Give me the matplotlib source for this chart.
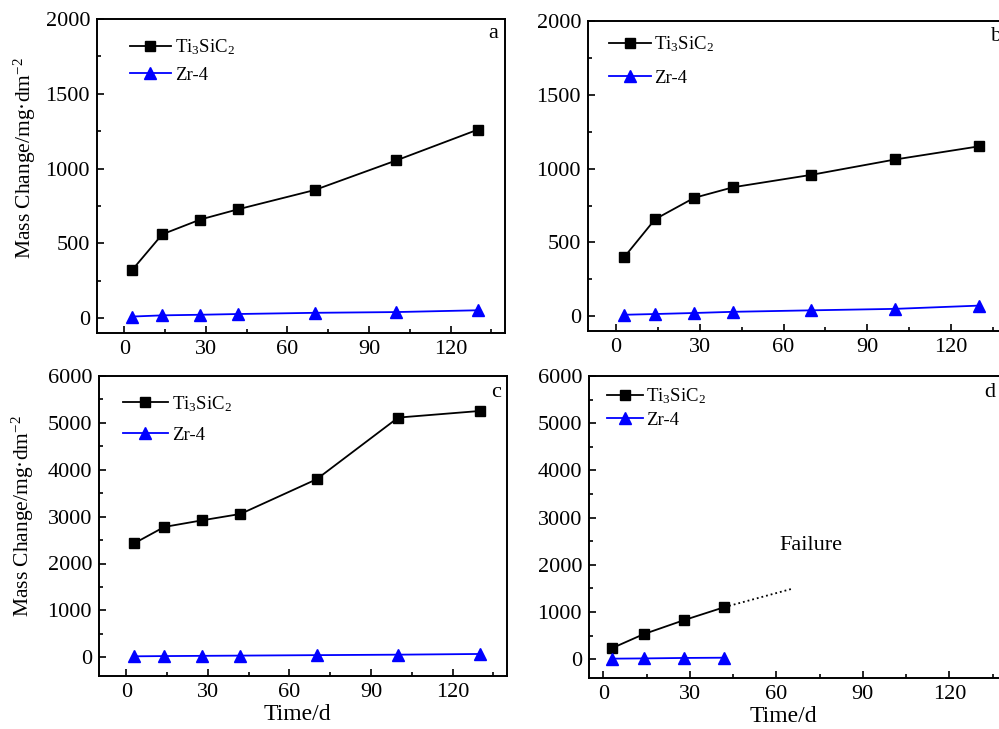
import matplotlib
matplotlib.use("Agg")
import matplotlib.pyplot as plt
from matplotlib.ticker import MultipleLocator

plt.rcParams['font.family'] = ['Liberation Serif', 'DejaVu Serif']
plt.rcParams['mathtext.fontset'] = 'custom'
plt.rcParams['mathtext.rm'] = 'Liberation Serif'
plt.rcParams['mathtext.it'] = 'Liberation Serif:italic'

# ---- data ----
days = [3, 14, 28, 42, 70, 100, 130]
ti_a = [323, 560, 659, 728, 856, 1054, 1260]
zr_a = [10, 18, 22, 27, 35, 40, 52]
ti_b = [401, 657, 802, 874, 958, 1062, 1151]
zr_b = [10, 15, 22, 30, 40, 50, 72]
ti_c = [2432, 2780, 2922, 3057, 3797, 5113, 5254]
zr_c = [20, 25, 30, 35, 45, 55, 70]
days_d = [3, 14, 28, 42]
ti_d = [233, 530, 827, 1102]
zr_d = [10, 15, 25, 30]
failure_x = [42, 66]
failure_y = [1102, 1500]

panel_labels = ['a', 'b', 'c', 'd']
series_names = [r'Ti$_3$SiC$_2$', 'Zr-4']
xticks = [0, 30, 60, 90, 120]

W, H = 999, 729
fig = plt.figure(figsize=(W / 100, H / 100), dpi=100)

def pos(l, r, t, b):
    return [l / W, 1 - b / H, (r - l) / W, (b - t) / H]

ax_a = fig.add_axes(pos(97, 505, 19, 333))
ax_b = fig.add_axes(pos(588, 1007, 21, 331))
ax_c = fig.add_axes(pos(99, 507, 376, 676))
ax_d = fig.add_axes(pos(589, 1007, 376, 678))

def style(ax, xlim, ylim, ymaj, ymin):
    ax.set_xlim(*xlim)
    ax.set_ylim(*ylim)
    ax.set_xticks(xticks)
    ax.xaxis.set_minor_locator(MultipleLocator(15))
    ax.yaxis.set_major_locator(MultipleLocator(ymaj))
    ax.yaxis.set_minor_locator(MultipleLocator(ymin))
    ax.tick_params(which='both', direction='in', top=False, right=False,
                   labelsize=16, width=1.2, pad=5)
    ax.tick_params(which='major', length=5)
    ax.tick_params(which='minor', length=3)
    for s in ax.spines.values():
        s.set_linewidth(1.4)

def plot_pair(ax, x, ti, zr):
    ax.plot(x, ti, color='black', marker='s', markersize=6.5, lw=1.3,
            label=series_names[0])
    ax.plot(x, zr, color='blue', marker='^', markersize=8.5, lw=1.3,
            label=series_names[1])

plot_pair(ax_a, days, ti_a, zr_a)
plot_pair(ax_b, days, ti_b, zr_b)
plot_pair(ax_c, days, ti_c, zr_c)
plot_pair(ax_d, days_d, ti_d, zr_d)
ax_d.plot(failure_x, failure_y, color='black', ls=':', lw=1.3)
ax_d.text(72, 2400, 'Failure', fontsize=16, ha='center', va='center')

style(ax_a, (-10, 140), (-100, 2000), 500, 250)
style(ax_b, (-10, 140), (-100, 2000), 500, 250)
style(ax_c, (-10, 140), (-400, 6000), 1000, 500)
style(ax_d, (-5, 140), (-400, 6000), 1000, 500)

leg_args = dict(frameon=False, fontsize=13.5, handletextpad=0.2,
                borderaxespad=0, loc='upper left')
ax_a.legend(bbox_to_anchor=(0.062, 0.965), labelspacing=0.5,
            handlelength=2.2, **leg_args)
ax_b.legend(bbox_to_anchor=(0.033, 0.98), labelspacing=0.8,
            handlelength=2.2, **leg_args)
ax_c.legend(bbox_to_anchor=(0.04, 0.965), labelspacing=0.7,
            handlelength=2.4, **leg_args)
ax_d.legend(bbox_to_anchor=(0.025, 0.99), labelspacing=0.3,
            handlelength=1.9, **leg_args)

ax_a.text(0.972, 0.955, panel_labels[0], transform=ax_a.transAxes,
          fontsize=16, ha='center', va='center')
ax_b.text(0.974, 0.95, panel_labels[1], transform=ax_b.transAxes,
          fontsize=16, ha='center', va='center')
ax_c.text(0.973, 0.945, panel_labels[2], transform=ax_c.transAxes,
          fontsize=16, ha='center', va='center')
ax_d.text(134, 5640, panel_labels[3], fontsize=16, ha='center', va='center')

ylab = 'Mass Change/mg·dm$^{-2}$'
fig.text(25 / W, 1 - 158 / H, ylab, rotation=90, fontsize=15.5,
         ha='center', va='center')
fig.text(23 / W, 1 - 516 / H, ylab, rotation=90, fontsize=15.5,
         ha='center', va='center')
fig.text(297 / W, 1 - 714 / H, 'Time/d', fontsize=17, ha='center', va='center')
fig.text(783 / W, 1 - 716 / H, 'Time/d', fontsize=17, ha='center', va='center')

fig.savefig('out.png', dpi=100)
